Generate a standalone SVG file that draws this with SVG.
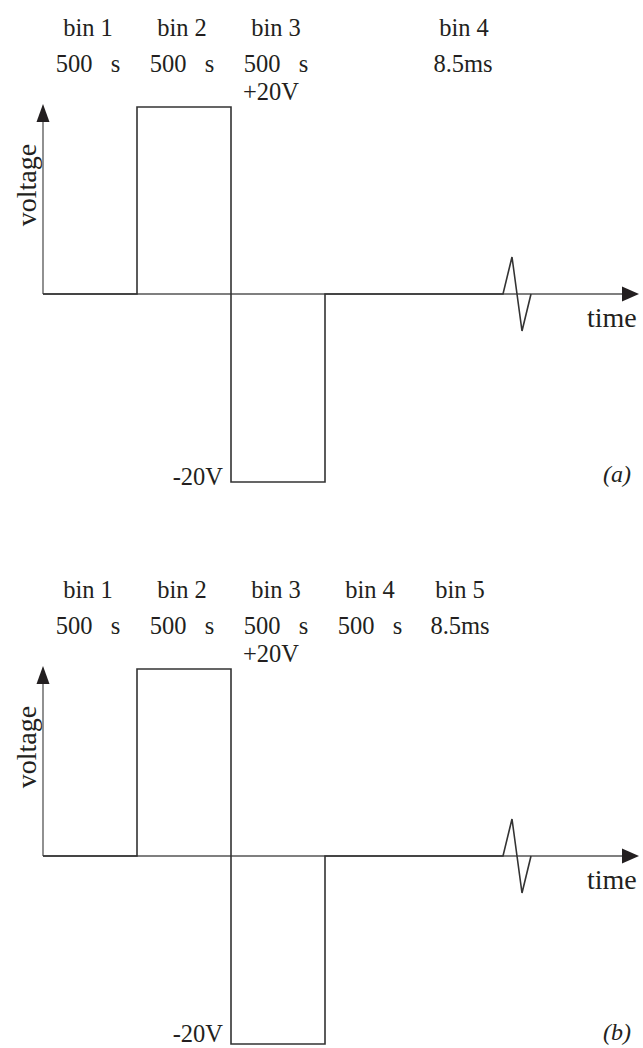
<svg xmlns="http://www.w3.org/2000/svg" width="643" height="1048" viewBox="0 0 643 1048">
<style>
text{font-family:"Liberation Serif","Times New Roman",serif;fill:#231f20;font-size:24.5px}
.c{text-anchor:middle}
.e{text-anchor:end}
.ax{font-size:28px}
.it{font-style:italic;font-size:24px}
.axis{stroke:#555;stroke-width:1.3;fill:none}
.wave{stroke:#333;stroke-width:1.6;fill:none}
.head{fill:#231f20;stroke:none}
</style>
<rect width="643" height="1048" fill="#fff"/>

<g id="panel-a">
  <g id="a-labels">
    <text class="c" x="88" y="36">bin 1</text>
    <text class="c" x="182" y="36">bin 2</text>
    <text class="c" x="276" y="36">bin 3</text>
    <text class="c" x="464" y="36">bin 4</text>
    <text class="c" x="88" y="72" xml:space="preserve">500   s</text>
    <text class="c" x="182" y="72" xml:space="preserve">500   s</text>
    <text class="c" x="276" y="72" xml:space="preserve">500   s</text>
    <text class="c" x="463" y="72">8.5ms</text>
    <text x="243" y="100">+20V</text>
    <text class="e" x="223" y="485">-20V</text>
    <text class="it" x="603" y="482">(a)</text>
    <text class="ax" transform="translate(36,185) rotate(-90)" text-anchor="middle">voltage</text>
    <text class="ax" x="587" y="327">time</text>
  </g>
  <g id="a-connectors">
    <path class="axis" d="M43,294 V118"/>
    <polygon class="head" points="43,104 36.5,122 49.5,122"/>
    <path class="axis" d="M43,294 H625"/>
    <polygon class="head" points="639,294 622,286.5 622,301.5"/>
    <path class="wave" d="M43,294 H137 V107 H231 V482 H325 V294 H503 L512,257 L522,331 L531,294"/>
  </g>
</g>

<g id="panel-b">
  <g id="b-labels">
    <text class="c" x="88" y="598">bin 1</text>
    <text class="c" x="182" y="598">bin 2</text>
    <text class="c" x="276" y="598">bin 3</text>
    <text class="c" x="370" y="598">bin 4</text>
    <text class="c" x="460" y="598">bin 5</text>
    <text class="c" x="88" y="634" xml:space="preserve">500   s</text>
    <text class="c" x="182" y="634" xml:space="preserve">500   s</text>
    <text class="c" x="276" y="634" xml:space="preserve">500   s</text>
    <text class="c" x="370" y="634" xml:space="preserve">500   s</text>
    <text class="c" x="460" y="634">8.5ms</text>
    <text x="243" y="662">+20V</text>
    <text class="e" x="223" y="1042">-20V</text>
    <text class="it" x="603" y="1040">(b)</text>
    <text class="ax" transform="translate(36,747) rotate(-90)" text-anchor="middle">voltage</text>
    <text class="ax" x="587" y="889">time</text>
  </g>
  <g id="b-connectors">
    <path class="axis" d="M43,856 V680"/>
    <polygon class="head" points="43,666 36.5,684 49.5,684"/>
    <path class="axis" d="M43,856 H625"/>
    <polygon class="head" points="639,856 622,848.5 622,863.5"/>
    <path class="wave" d="M43,856 H137 V669 H231 V1044 H325 V856 H503 L512,819 L522,893 L531,856"/>
  </g>
</g>
</svg>
